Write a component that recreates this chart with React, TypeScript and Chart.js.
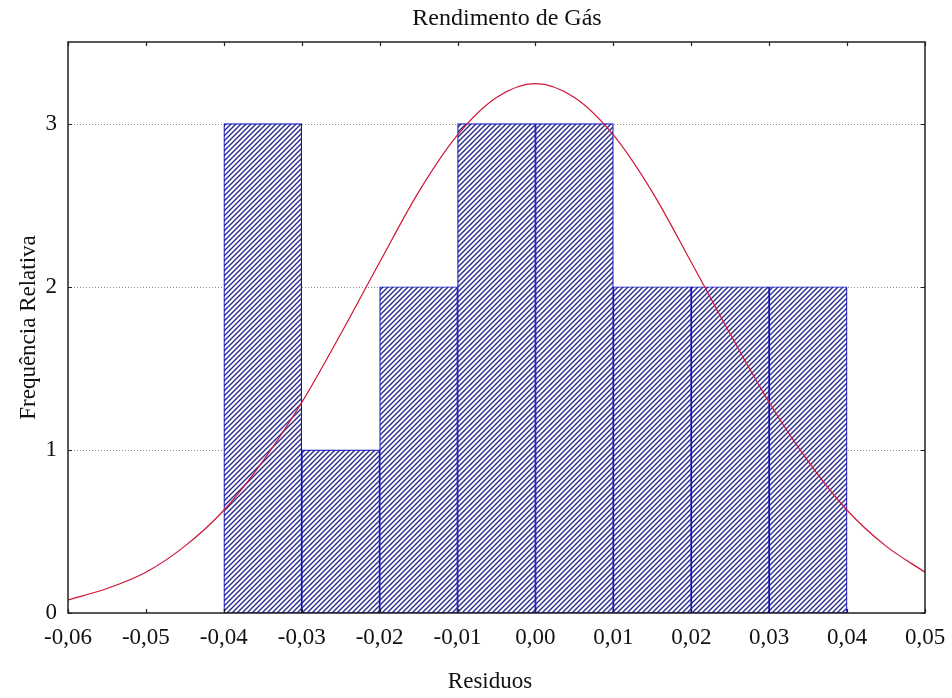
import { useEffect, useRef } from "react";
import { Chart, registerables } from "chart.js";

Chart.register(...registerables);

// Histogram of residuals: bin centres (width 0.01) and counts
const binCenters = [-0.035, -0.025, -0.015, -0.005, 0.005, 0.015, 0.025, 0.035];
const binCounts = [3, 1, 2, 3, 3, 2, 2, 2];

// Fitted normal curve, sampled every 0.005
const curveX = [
  -0.06, -0.055, -0.05, -0.045, -0.04, -0.035, -0.03, -0.025, -0.02, -0.015, -0.01, -0.005,
  0, 0.005, 0.01, 0.015, 0.02, 0.025, 0.03, 0.035, 0.04, 0.045, 0.05,
];
const curveY = [
  0.08, 0.15, 0.25, 0.41, 0.63, 0.93, 1.29, 1.71, 2.15, 2.58, 2.93, 3.16,
  3.245, 3.16, 2.93, 2.58, 2.15, 1.71, 1.29, 0.93, 0.63, 0.41, 0.25,
];

const xTicks = [-0.06, -0.05, -0.04, -0.03, -0.02, -0.01, 0, 0.01, 0.02, 0.03, 0.04, 0.05];
const xTickLabels = ["-0,06", "-0,05", "-0,04", "-0,03", "-0,02", "-0,01", "0,00", "0,01", "0,02", "0,03", "0,04", "0,05"];
const yTicks = [0, 1, 2, 3];
const yTickLabels = ["0", "1", "2", "3"];

const titleText = "Rendimento de Gás";
const xTitle = "Residuos";
const yTitle = "Frequência Relativa";

const FONT = "'Liberation Serif', 'Times New Roman', serif";

function makeHatch(ctx: CanvasRenderingContext2D) {
  const s = 5;
  const tile = document.createElement("canvas");
  tile.width = s;
  tile.height = s;
  const g = tile.getContext("2d")!;
  g.fillStyle = "#ffffff";
  g.fillRect(0, 0, s, s);
  g.strokeStyle = "#2a2a8c";
  g.lineWidth = 1.4;
  g.beginPath();
  g.moveTo(0, s);
  g.lineTo(s, 0);
  g.moveTo(-1, 1);
  g.lineTo(1, -1);
  g.moveTo(s - 1, s + 1);
  g.lineTo(s + 1, s - 1);
  g.stroke();
  return ctx.createPattern(tile, "repeat")!;
}

const decorPlugin = {
  id: "decor",
  beforeDatasetsDraw(chart: any) {
    const { ctx, chartArea: a, scales } = chart;
    ctx.save();
    ctx.strokeStyle = "#8c8c8c";
    ctx.lineWidth = 1;
    ctx.setLineDash([1, 2]);
    for (const v of yTicks) {
      if (v === 0) continue;
      const y = Math.round(scales.y.getPixelForValue(v)) + 0.5;
      ctx.beginPath();
      ctx.moveTo(a.left, y);
      ctx.lineTo(a.right, y);
      ctx.stroke();
    }
    ctx.restore();
  },
  afterDraw(chart: any) {
    const { ctx, chartArea: a, scales } = chart;
    ctx.save();
    // plot frame
    ctx.strokeStyle = "#202020";
    ctx.lineWidth = 1.5;
    ctx.strokeRect(a.left, a.top, a.right - a.left, a.bottom - a.top);
    // inward tick marks
    ctx.lineWidth = 1.2;
    const tl = 4;
    ctx.beginPath();
    for (const v of xTicks) {
      const x = Math.round(scales.x.getPixelForValue(v)) + 0.5;
      ctx.moveTo(x, a.bottom);
      ctx.lineTo(x, a.bottom - tl);
      ctx.moveTo(x, a.top);
      ctx.lineTo(x, a.top + tl);
    }
    for (const v of yTicks) {
      const y = Math.round(scales.y.getPixelForValue(v)) + 0.5;
      ctx.moveTo(a.left, y);
      ctx.lineTo(a.left + tl, y);
      ctx.moveTo(a.right, y);
      ctx.lineTo(a.right - tl, y);
    }
    ctx.stroke();
    // titles
    ctx.fillStyle = "#111111";
    ctx.textAlign = "center";
    ctx.textBaseline = "middle";
    ctx.font = `24px ${FONT}`;
    ctx.fillText(titleText, 507, 19);
    ctx.font = `23px ${FONT}`;
    ctx.fillText(xTitle, 490, 682);
    ctx.translate(29, (a.top + a.bottom) / 2);
    ctx.rotate(-Math.PI / 2);
    ctx.fillText(yTitle, 0, 0);
    ctx.restore();
  },
};

export default function App() {
  const canvasRef = useRef<HTMLCanvasElement | null>(null);

  useEffect(() => {
    const canvas = canvasRef.current!;
    const ctx = canvas.getContext("2d")!;
    const hatch = makeHatch(ctx);

    const chart = new Chart(ctx, {
      type: "bar",
      data: {
        datasets: [
          {
            type: "line",
            data: curveX.map((x, i) => ({ x, y: curveY[i] })),
            borderColor: "#d01535",
            borderWidth: 1.2,
            pointRadius: 0,
            cubicInterpolationMode: "monotone",
            fill: false,
            order: 0,
          } as any,
          {
            type: "bar",
            data: binCenters.map((x, i) => ({ x, y: binCounts[i] })),
            backgroundColor: hatch,
            borderColor: "#1010c0",
            borderWidth: 1.2,
            borderSkipped: false,
            categoryPercentage: 1,
            barPercentage: 1,
            order: 1,
          } as any,
        ],
      },
      options: {
        responsive: false,
        animation: false,
        layout: { padding: { top: 42, right: 27, left: 0, bottom: 0 } },
        plugins: {
          legend: { display: false },
          tooltip: { enabled: false },
          title: { display: false },
        },
        scales: {
          x: {
            type: "linear",
            min: -0.06,
            max: 0.05,
            offset: false,
            grid: { display: false, offset: false },
            border: { display: false },
            afterBuildTicks: (scale: any) => {
              scale.ticks = xTicks.map((v) => ({ value: v }));
            },
            afterFit: (scale: any) => {
              scale.height = 85;
              scale.paddingLeft = 0;
              scale.paddingRight = 0;
            },
            ticks: {
              autoSkip: false,
              maxRotation: 0,
              minRotation: 0,
              padding: 3,
              color: "#111111",
              font: { family: FONT, size: 23 },
              callback: (_v: any, i: number) => xTickLabels[i],
            },
          },
          y: {
            type: "linear",
            min: 0,
            max: 3.5,
            grid: { display: false },
            border: { display: false },
            afterBuildTicks: (scale: any) => {
              scale.ticks = yTicks.map((v) => ({ value: v }));
            },
            afterFit: (scale: any) => {
              scale.width = 68;
              scale.paddingTop = 0;
              scale.paddingBottom = 0;
            },
            ticks: {
              padding: 3,
              color: "#111111",
              font: { family: FONT, size: 23 },
              callback: (_v: any, i: number) => yTickLabels[i],
            },
          },
        },
      } as any,
      plugins: [decorPlugin],
    });

    return () => chart.destroy();
  }, []);

  return (
    <div style={{ position: "fixed", left: 0, top: 0, width: 952, height: 698, background: "#ffffff" }}>
      <canvas ref={canvasRef} width={952} height={698} style={{ display: "block" }} />
    </div>
  );
}
